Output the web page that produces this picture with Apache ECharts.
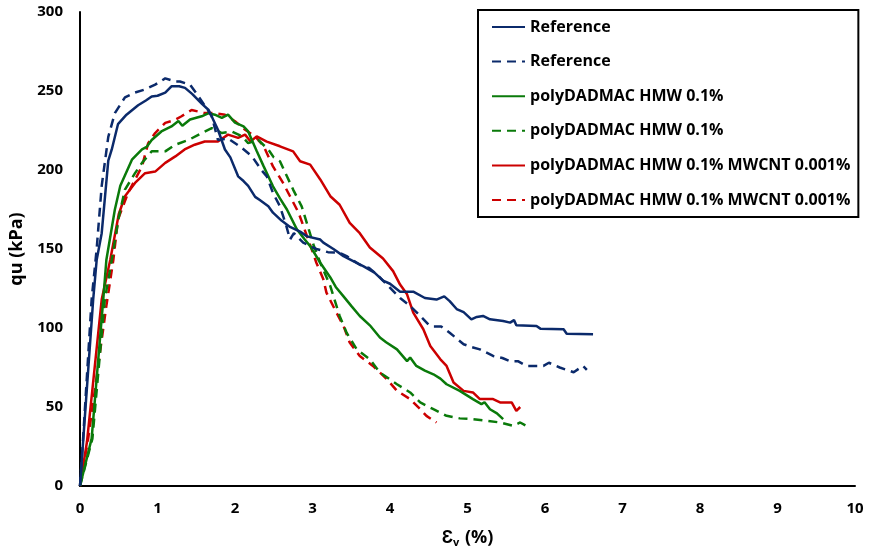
<!DOCTYPE html>
<html><head><meta charset="utf-8">
<script src="https://cdn.jsdelivr.net/npm/echarts@6/dist/echarts.min.js"></script>
<style>html,body{margin:0;padding:0;background:#fff}#c{width:869px;height:553px}</style>
</head><body><div id="c"></div>
<script>
const xTicks = [0,1,2,3,4,5,6,7,8,9,10];
const yTicks = [0,50,100,150,200,250,300];
const seriesNames = ['Reference','Reference','polyDADMAC HMW 0.1%','polyDADMAC HMW 0.1%','polyDADMAC HMW 0.1% MWCNT 0.001%','polyDADMAC HMW 0.1% MWCNT 0.001%'];

const refSolid = [[0,0],[0.04,28],[0.17,118],[0.215,143],[0.28,160],[0.365,206],[0.41,213],[0.49,229],[0.6,235],[0.75,241],[0.85,244],[0.925,246.5],[1.0,247],[1.10,249],[1.18,253],[1.28,253],[1.355,252],[1.45,248],[1.57,242],[1.66,238],[1.78,225.5],[1.87,213],[1.94,208],[2.04,196],[2.11,193],[2.17,190],[2.26,183],[2.32,181],[2.43,177],[2.49,173],[2.6,168],[2.71,164],[2.84,161],[2.93,158],[3.10,156],[3.14,154],[3.27,150],[3.40,145.5],[3.50,143],[3.66,139],[3.80,135],[3.91,130],[4.0,128],[4.13,123],[4.30,123],[4.45,119],[4.60,118],[4.70,120],[4.77,117],[4.86,112],[4.95,110],[5.05,105.5],[5.12,107],[5.20,107.6],[5.29,105.5],[5.46,104.4],[5.55,103.4],[5.60,105],[5.63,101.7],[5.89,101.3],[5.94,99.6],[6.24,99.2],[6.28,96.4],[6.62,96]];
const refDashed = [[0,0],[0.04,30],[0.15,118],[0.215,150],[0.28,190],[0.365,221],[0.45,236],[0.58,246],[0.71,249],[0.84,251],[0.97,254],[1.10,258],[1.23,256],[1.29,256],[1.42,254],[1.53,246.5],[1.62,240],[1.70,234],[1.78,219],[1.91,220],[2.09,214],[2.22,208.6],[2.34,200],[2.41,196],[2.49,185.5],[2.58,177],[2.66,165],[2.71,156],[2.76,160],[2.88,154],[3.05,150],[3.20,148],[3.35,147.6],[3.44,145.5],[3.61,140],[3.73,138],[3.83,134],[3.98,126.5],[4.13,119],[4.26,114],[4.39,107.6],[4.50,102],[4.56,101],[4.66,101],[4.77,97],[4.95,89.7],[5.05,88],[5.16,86.5],[5.33,82.3],[5.45,81],[5.55,79],[5.65,79],[5.76,76],[5.98,76],[6.05,78],[6.19,75],[6.37,72],[6.49,76],[6.54,73.5]];
const greenSolid = [[0,0],[0.15,30],[0.30,118],[0.34,143],[0.45,175],[0.52,190],[0.67,206.5],[0.80,213],[0.86,214.6],[0.925,219],[1.05,224.4],[1.18,227.6],[1.27,231],[1.32,228],[1.42,232],[1.57,234],[1.66,236],[1.74,235],[1.83,233],[1.91,235],[2.0,230],[2.11,227.6],[2.17,224.4],[2.28,212],[2.37,202.3],[2.49,189.7],[2.58,182],[2.67,175],[2.80,162.3],[2.90,156],[2.97,151.8],[3.10,141.3],[3.23,132],[3.30,126],[3.40,120],[3.50,114],[3.61,107.6],[3.74,101.7],[3.87,94],[3.95,91],[4.09,86.5],[4.22,79],[4.26,81.3],[4.34,76],[4.45,73],[4.56,70.7],[4.65,68],[4.73,64.4],[4.90,60.2],[5.07,55],[5.18,51.8],[5.22,53],[5.29,48.6],[5.38,46],[5.46,42.3]];
const greenDashed = [[0,0],[0.16,30],[0.32,118],[0.41,143],[0.50,170],[0.58,187.6],[0.71,198],[0.80,204.5],[0.925,211.8],[1.10,211.8],[1.23,216],[1.40,219],[1.57,223.4],[1.70,226.5],[1.83,223.4],[1.96,224.4],[2.09,221.3],[2.17,217],[2.30,219],[2.43,213],[2.50,208],[2.58,205.5],[2.67,196],[2.75,187.6],[2.86,177],[2.93,166],[3.01,153],[3.10,141.3],[3.23,126.5],[3.35,107.6],[3.44,97],[3.57,86.5],[3.74,80.2],[3.87,71.8],[4.09,64.4],[4.26,59.2],[4.39,52.9],[4.56,48.6],[4.73,44.4],[4.90,42.8],[5.07,42.3],[5.25,41.3],[5.42,40.2],[5.59,38.1],[5.68,40.2],[5.80,37]];
const redSolid = [[0,0],[0.09,28],[0.28,118],[0.39,143],[0.50,172],[0.58,183.4],[0.71,191.8],[0.84,198],[0.97,199],[1.10,204.5],[1.23,208.6],[1.35,213],[1.48,216],[1.61,218],[1.78,218],[1.91,222.4],[2.04,220.3],[2.13,222.4],[2.20,218],[2.28,221.3],[2.41,218],[2.58,215],[2.75,211.8],[2.84,205.5],[2.97,203.4],[3.10,194],[3.23,183.4],[3.35,178],[3.48,166.5],[3.61,160],[3.74,151],[3.91,144],[4.04,136],[4.13,127.5],[4.22,121.3],[4.30,109.7],[4.43,99.2],[4.52,88.6],[4.65,80.2],[4.73,76],[4.82,65.5],[4.95,60.2],[5.07,59.2],[5.16,55],[5.33,55],[5.42,52.9],[5.57,52.9],[5.63,47.6],[5.68,50]];
const redDashed = [[0,0],[0.10,28],[0.34,114],[0.43,143],[0.49,168.7],[0.62,185.5],[0.80,202.3],[0.88,217],[0.97,223.4],[1.10,229.8],[1.23,231.8],[1.31,234],[1.44,238],[1.61,236],[1.74,236],[1.87,235],[2.0,230.8],[2.13,225.5],[2.26,221.3],[2.37,215],[2.49,202.3],[2.62,191.8],[2.71,183.4],[2.82,173],[2.93,158],[3.01,147],[3.05,141.3],[3.14,130.8],[3.18,122.4],[3.31,109.7],[3.40,101.3],[3.48,90.8],[3.61,82.3],[3.78,76],[3.96,67.6],[4.09,60.2],[4.26,55],[4.39,48.6],[4.47,44.4],[4.60,40.2]];

const seriesData = [refSolid, refDashed, greenSolid, greenDashed, redSolid, redDashed];
const colors = ['#0B2A6B','#0B2A6B','#0A7A0A','#0A7A0A','#CC0000','#CC0000'];
const dashed = [false,true,false,true,false,true];

const font = 'Open Sans, Liberation Sans, sans-serif';
const uniq = i => seriesNames[i] + '\u200b'.repeat(i);
const chart = echarts.init(document.getElementById('c'), null, {renderer:'canvas'});
chart.setOption({
  animation: false,
  backgroundColor: '#fff',
  grid: {left: 80, right: 14, top: 12, bottom: 66},
  xAxis: {
    type: 'value', min: xTicks[0], max: xTicks[xTicks.length-1], interval: 1,
    axisLine: {show: true, lineStyle: {color: '#000', width: 2}},
    axisTick: {show: false}, splitLine: {show: false},
    axisLabel: {color: '#000', fontWeight: 'bold', fontSize: 15, fontFamily: font, margin: 15},
    name: '{a|Ɛ}{s|v}{a| (%)}', nameLocation: 'middle', nameGap: 41,
    nameTextStyle: {rich: {
      a: {fontSize: 18, fontWeight: 'bold', fontFamily: font, color: '#000'},
      s: {fontSize: 11, fontWeight: 'bold', fontFamily: font, color: '#000', verticalAlign: 'bottom', padding: [10,1,0,0]}
    }}
  },
  yAxis: {
    type: 'value', min: yTicks[0], max: yTicks[yTicks.length-1], interval: 50,
    axisLine: {show: true, lineStyle: {color: '#000', width: 2}},
    axisTick: {show: false}, splitLine: {show: false},
    axisLabel: {color: '#000', fontWeight: 'bold', fontSize: 15, fontFamily: font, margin: 17},
    name: 'qu (kPa)', nameLocation: 'middle', nameGap: 46, nameRotate: 90,
    nameTextStyle: {color: '#000', fontWeight: 'bold', fontSize: 18, fontFamily: font}
  },
  legend: {
    orient: 'vertical', left: 478, top: 10,
    padding: [9, 8, 9, 13], itemGap: 18.6, itemWidth: 33, itemHeight: 16,
    borderColor: '#000', borderWidth: 2, backgroundColor: '#fff',
    itemStyle: {opacity: 0},
    textStyle: {color: '#000', fontWeight: 'bold', fontSize: 16, lineHeight: 16, fontFamily: font},
    data: seriesNames.map((n, i) => uniq(i)),
    formatter: n => n.replace(/\u200b/g, '')
  },
  series: seriesData.map((d, i) => ({
    name: uniq(i),
    type: 'line', data: d, symbol: 'none', smooth: false,
    lineStyle: {color: colors[i], width: 2.5, type: dashed[i] ? [9, 6] : 'solid'},
    itemStyle: {color: colors[i]},
    z: 10 - i
  }))
});
</script></body></html>
